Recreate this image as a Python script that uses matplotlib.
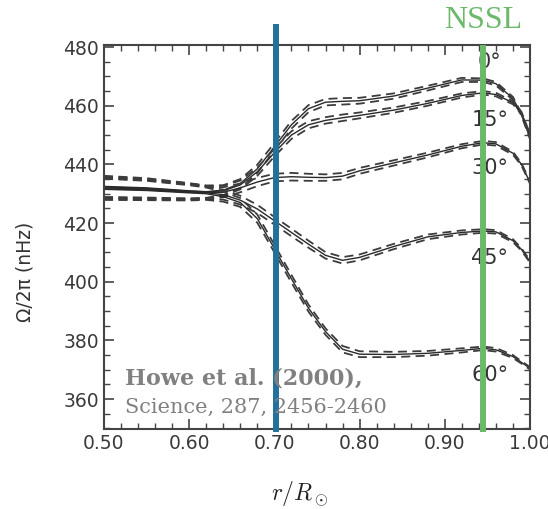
import numpy as np
import matplotlib.pyplot as plt
from matplotlib.ticker import MultipleLocator

plt.rcParams['mathtext.fontset'] = 'cm'

# radius grid (r / R_sun) and rotation rate per latitude (nHz)
radius = [0.50, 0.55, 0.60, 0.62, 0.64, 0.66, 0.68, 0.70, 0.72, 0.74, 0.76,
          0.78, 0.80, 0.84, 0.88, 0.92, 0.945, 0.96, 0.98, 0.99, 1.00]
lat0 = [432.5, 432.0, 431.0, 430.7, 431.2, 433.5, 438.5, 446.0, 453.5, 459.0, 461.2,
        461.5, 461.7, 463.3, 466.0, 468.8, 468.7, 467.5, 462.5, 457.0, 449.0]
lat15 = [432.3, 431.8, 430.9, 430.6, 431.0, 433.0, 437.5, 444.0, 450.0, 453.5, 455.0,
         455.9, 456.7, 458.5, 460.8, 463.5, 464.4, 463.8, 461.0, 457.5, 450.0]
lat30 = [432.0, 431.6, 430.7, 430.4, 430.5, 432.0, 434.0, 435.5, 435.8, 435.6, 435.5,
         436.0, 437.8, 440.5, 443.2, 446.2, 447.4, 447.0, 443.8, 440.0, 433.8]
lat45 = [431.7, 431.3, 430.5, 430.3, 429.7, 427.8, 424.8, 420.8, 416.8, 412.8, 409.0,
         407.3, 408.3, 412.0, 415.3, 416.8, 417.3, 417.0, 414.0, 411.0, 406.9]
lat60 = [431.5, 431.1, 430.3, 430.0, 429.0, 427.0, 421.5, 411.3, 401.0, 391.0, 383.0,
         377.0, 375.3, 375.2, 375.6, 376.6, 377.3, 376.8, 374.5, 372.5, 370.5]
# half-width of the dashed error band (nHz)
err = [3.6, 3.3, 2.6, 2.1, 1.7, 1.5, 1.4, 1.3, 1.3, 1.2, 1.1,
       1.1, 1.0, 0.9, 0.8, 0.7, 0.6, 0.6, 0.5, 0.4, 0.4]

curves = [lat0, lat15, lat30, lat45, lat60]
lat_labels = ["0°", "15°", "30°", "45°", "60°"]
label_x = [0.938, 0.931, 0.931, 0.931, 0.931]
label_y = [474.9, 455.1, 438.8, 408.1, 368.3]

tachocline = 0.702
nssl = 0.945

fig = plt.figure(figsize=(5.48, 5.09), dpi=100)
ax = fig.add_axes([104 / 548, 80 / 509, 426 / 548, 384 / 509])

r = np.array(radius)
e = np.array(err)
for vals in curves:
    v = np.array(vals)
    ax.plot(r, v, color="#2a2a2a", lw=1.0)
    for s in (1, -1):
        ax.plot(r, v + s * e, color="#3c3c3c", lw=1.3, linestyle=(0, (5, 3)))

for lab, lx, ly in zip(lat_labels, label_x, label_y):
    ax.text(lx, ly, lab, fontsize=15, color="#333333", va="center", ha="left",
            family="DejaVu Sans")

ax.set_xlim(0.5, 1.0)
ax.set_ylim(349.8, 480.7)
ax.xaxis.set_major_locator(MultipleLocator(0.1))
ax.xaxis.set_minor_locator(MultipleLocator(0.02))
ax.yaxis.set_major_locator(MultipleLocator(20))
ax.yaxis.set_minor_locator(MultipleLocator(5))
ax.set_xticks([0.5, 0.6, 0.7, 0.8, 0.9, 1.0])
ax.set_xticklabels(["0.50", "0.60", "0.70", "0.80", "0.90", "1.00"])
ax.tick_params(which="both", direction="in", top=True, right=True, colors="#444444",
               labelcolor="#3a3a3a", labelsize=13.5)
ax.tick_params(which="major", length=7, width=1.2)
ax.tick_params(which="minor", length=4, width=1.0)
for sp in ax.spines.values():
    sp.set_color("#444444")
    sp.set_linewidth(1.5)

# markers for tachocline and near-surface shear layer
ax.axvline(tachocline, ymin=0, ymax=(429 - 27) / 384, color="#23719a", lw=4.3,
           clip_on=False, zorder=5)
ax.axvline(nssl, ymin=0, ymax=(429 - 48) / 384, color="#6cb96b", lw=4.3,
           clip_on=False, zorder=5)

fig.text(483 / 548, 1 - 20 / 509, "NSSL", color="#6cb96b", fontsize=23,
         family="Liberation Serif", ha="center", va="center")
fig.text(125 / 548, 1 - 384 / 509, "Howe et al. (2000),", color="#808080",
         fontsize=16, family="DejaVu Serif", weight="bold", ha="left",
         va="baseline")
fig.text(125 / 548, 1 - 413 / 509, "Science, 287, 2456-2460", color="#808080",
         fontsize=15, family="DejaVu Serif", ha="left", va="baseline")

fig.text(25 / 548, 1 - 272 / 509, "Ω/2π (nHz)", rotation=90, fontsize=13.5,
         color="#333333", ha="center", va="center", family="DejaVu Sans")
fig.text(300 / 548, 1 - 493 / 509, r"$r/R_\odot$", fontsize=17, color="#222222",
         ha="center", va="center")

fig.savefig("out.png", dpi=100)
